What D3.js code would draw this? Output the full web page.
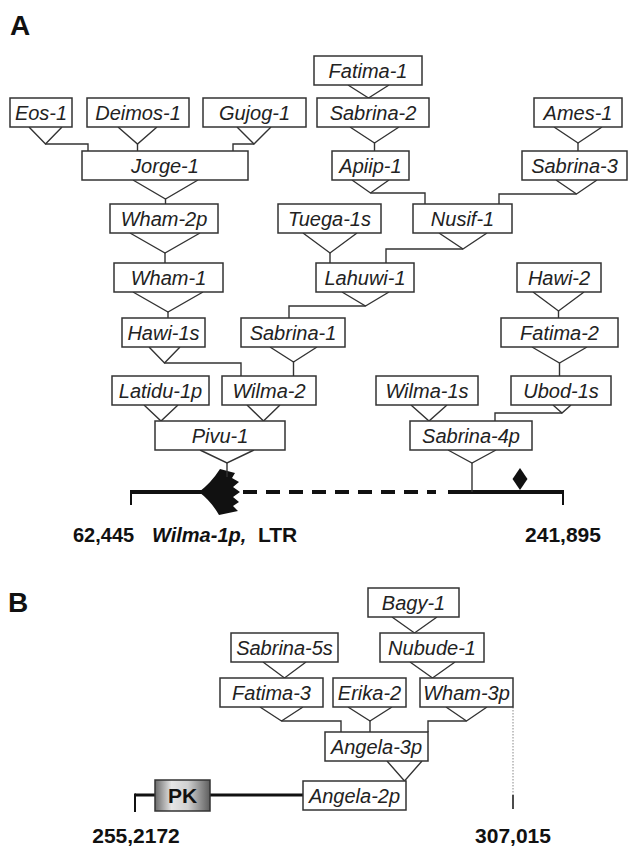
<!DOCTYPE html>
<html><head><meta charset="utf-8">
<script src="https://cdn.jsdelivr.net/npm/d3@7"></script>
<style>body{margin:0;background:#fff}svg{display:block}</style>
</head><body>
<svg id="chart" width="628" height="848"></svg>
<script>
// ---------------- DATA ----------------
// Panel A: nested transposable elements, each with the element it is inserted into
const panelANames = ["Fatima-1","Eos-1","Deimos-1","Gujog-1","Sabrina-2","Ames-1","Jorge-1","Apiip-1","Sabrina-3",
  "Wham-2p","Tuega-1s","Nusif-1","Wham-1","Lahuwi-1","Hawi-2","Hawi-1s","Sabrina-1","Fatima-2",
  "Latidu-1p","Wilma-2","Wilma-1s","Ubod-1s","Pivu-1","Sabrina-4p"];
const panelAHosts = ["Sabrina-2","Jorge-1","Jorge-1","Jorge-1","Apiip-1","Sabrina-3","Wham-2p","Nusif-1","Nusif-1",
  "Wham-1","Lahuwi-1","Lahuwi-1","Hawi-1s","Sabrina-1","Fatima-2","Wilma-2","Wilma-2","Ubod-1s",
  "Pivu-1","Pivu-1","Sabrina-4p","Sabrina-4p","genome","genome"];
const panelARows = [0,1,1,1,1,1,2,2,2,3,3,3,4,4,4,5,5,5,6,6,6,6,7,7];
const panelAEnds = [62445, 241895];
const panelALabels = ["Wilma-1p,", "LTR"];

// Panel B
const panelBNames = ["Bagy-1","Sabrina-5s","Nubude-1","Fatima-3","Erika-2","Wham-3p","Angela-3p","Angela-2p"];
const panelBHosts = ["Nubude-1","Fatima-3","Wham-3p","Angela-3p","Angela-3p","Angela-3p","Angela-2p","genome"];
const panelBRows = [0,1,1,2,2,2,3,4];
const panelBEndLabels = ["255,2172", "307,015"];
const panelBGene = ["PK"];

// ---------------- LAYOUT ----------------
const rowTopA = [56,98,151,204,263,318,376,421];
const boxLeftA  = [314,10,87,203,317,534,82,332,522,110,278,413,114,316,517,122,241,501,112,222,376,511,155,410];
const boxRightA = [422,72,189,306,429,622,248,409,627,218,381,512,223,414,601,205,345,618,209,316,478,611,285,532];
const vLeftA  = [348,29,118,237,350,554,133,352,556,130,303,439,133,342,533,149,270,532,144,247,411,553,200,448];
const vRightA = [389,62,157,271,399,602,198,389,597,200,357,487,203,389,584,180,317,587,178,280,447,571,254,496];
const apexYA  = [98,144,144,144,143,143,199,193,194,253,253,249,312,306,311,363,362,363,421,421,421,413,463,463];
const insertXA = [null,88,null,233,null,null,null,425,499,null,null,386,null,289,null,241,null,null,null,null,null,495,null,null];
const genomeYA = 492, genomeStopA = [477, 492];

const rowTopB = [588,633,678,732,781];
const boxLeftB  = [368,231,380,220,333,420,325,303];
const boxRightB = [459,338,484,323,406,513,428,406];
const vLeftB  = [392,263,410,260,348,446,387];
const vRightB = [437,306,455,303,392,487,422];
const apexYB  = [633,678,678,721,721,721,781];
const insertXB = [null,null,null,341,null,428,null];
const genomeYB = 795;

const BOX_H = 29;
const svg = d3.select("#chart");
const x = d3.scaleLinear().domain([0,628]).range([0,628]);
const yA = d3.scaleOrdinal().domain(d3.range(rowTopA.length)).range(rowTopA);
const yB = d3.scaleOrdinal().domain(d3.range(rowTopB.length)).range(rowTopB);

const defs = svg.append("defs");
const grad = defs.append("linearGradient").attr("id","pkgrad").attr("x1","0%").attr("x2","100%").attr("y1","0%").attr("y2","0%");
[["0%","#6a6a6a"],["30%","#e6e6e6"],["60%","#d0d0d0"],["100%","#5e5e5e"]].forEach(s=>grad.append("stop").attr("offset",s[0]).attr("stop-color",s[1]));

function drawPanel(g, names, hosts, rows, yS, L, R, vL, vR, apY, insX, stopY) {
  const idx = {}; names.forEach((n,i)=>idx[n]=i);
  const boxes = names.map((n,i)=>({name:n, x0:x(L[i]), x1:x(R[i]), y0:yS(rows[i]), y1:yS(rows[i])+BOX_H, i}));
  boxes.forEach((b,i)=>{
    if (vL[i] === undefined) return;
    const ax = (x(vL[i])+x(vR[i]))/2, ay = apY[i];
    g.append("path").attr("d", `M${x(vL[i])},${b.y1}L${ax},${ay}L${x(vR[i])},${b.y1}`)
      .attr("fill","none").attr("stroke","#333").attr("stroke-width",1.4);
    let targetY;
    const h = hosts[i];
    if (h === "genome") targetY = stopY[i - (names.length - stopY.length)];
    else targetY = boxes[idx[h]].y0;
    const ix = insX[i] == null ? ax : x(insX[i]);
    if (targetY > ay + 0.5) {
      g.append("path").attr("d", `M${ax},${ay}H${ix}V${targetY}`)
        .attr("fill","none").attr("stroke","#333").attr("stroke-width",1.4);
    }
  });
  const bg = g.selectAll("g.box").data(boxes).join("g").attr("class","box");
  bg.append("rect").attr("x",d=>d.x0).attr("y",d=>d.y0).attr("width",d=>d.x1-d.x0).attr("height",BOX_H)
    .attr("fill","#fff").attr("stroke","#333").attr("stroke-width",1.5);
  bg.append("text").attr("x",d=>(d.x0+d.x1)/2).attr("y",d=>d.y0+BOX_H/2+7)
    .attr("text-anchor","middle").attr("font-family","'Liberation Sans',Arial,sans-serif")
    .attr("font-style","italic").attr("font-size",20).attr("fill","#222").text(d=>d.name);
}

// ---------- Panel A ----------
const gA = svg.append("g");
gA.append("text").attr("x",10).attr("y",35).attr("font-family","'Liberation Sans',Arial,sans-serif")
  .attr("font-weight","bold").attr("font-size",28).attr("fill","#111").text("A");

const gen = d3.scaleLinear().domain(panelAEnds).range([131,563]);
const lineA = gA.append("g").attr("stroke","#111").attr("fill","none");
lineA.append("line").attr("x1",gen(panelAEnds[0])).attr("x2",202).attr("y1",genomeYA).attr("y2",genomeYA).attr("stroke-width",4);
lineA.append("line").attr("x1",243).attr("x2",436).attr("y1",genomeYA).attr("y2",genomeYA).attr("stroke-width",4).attr("stroke-dasharray","14,9");
lineA.append("line").attr("x1",448).attr("x2",gen(panelAEnds[1])).attr("y1",genomeYA).attr("y2",genomeYA).attr("stroke-width",4);
lineA.append("line").attr("x1",gen(panelAEnds[0])).attr("x2",gen(panelAEnds[0])).attr("y1",genomeYA-2).attr("y2",505).attr("stroke-width",2);
lineA.append("line").attr("x1",gen(panelAEnds[1])).attr("x2",gen(panelAEnds[1])).attr("y1",genomeYA-2).attr("y2",505).attr("stroke-width",2);
const tx = 199, ty = genomeYA;
const arrowPts = [[21,-23],[36,-19],[33,-14],[40,-10],[34,-5],[41,0],[34,5],[40,10],[34,14],[39,19],[20,23]];
let ad = `M${tx},${ty}Q${tx+12},${ty-9} ${tx+arrowPts[0][0]},${ty+arrowPts[0][1]}`;
arrowPts.slice(1).forEach(p=>ad+=`L${tx+p[0]},${ty+p[1]}`);
ad += `Q${tx+12},${ty+9} ${tx},${ty}Z`;
gA.append("path").attr("d",ad).attr("fill","#111");
gA.append("path").attr("d",`M520,468L527.5,479L520,490L512.5,479Z`).attr("fill","#111");

drawPanel(gA, panelANames, panelAHosts, panelARows, yA, boxLeftA, boxRightA, vLeftA, vRightA, apexYA, insertXA, genomeStopA);

const fmt = d3.format(",");
const lbl = gA.append("g").attr("font-family","'Liberation Sans',Arial,sans-serif").attr("font-weight","bold").attr("font-size",20).attr("fill","#111");
lbl.append("text").attr("x",73).attr("y",542).text(fmt(panelAEnds[0]));
lbl.append("text").attr("x",152).attr("y",542).attr("font-style","italic").text(panelALabels[0]);
lbl.append("text").attr("x",258).attr("y",542).attr("font-size",21).text(panelALabels[1]);
lbl.append("text").attr("x",gen(panelAEnds[1])).attr("y",542).attr("text-anchor","middle").attr("font-size",21).text(fmt(panelAEnds[1]));

// ---------- Panel B ----------
const gB = svg.append("g");
gB.append("text").attr("x",8).attr("y",612).attr("font-family","'Liberation Sans',Arial,sans-serif")
  .attr("font-weight","bold").attr("font-size",28).attr("fill","#111").text("B");
const lineB = gB.append("g").attr("stroke","#111").attr("fill","none");
lineB.append("line").attr("x1",135).attr("x2",303).attr("y1",genomeYB).attr("y2",genomeYB).attr("stroke-width",3);
lineB.append("line").attr("x1",135).attr("x2",135).attr("y1",genomeYB-1.5).attr("y2",812).attr("stroke-width",2);
lineB.append("line").attr("x1",513).attr("x2",513).attr("y1",707).attr("y2",795).attr("stroke-width",1).attr("stroke","#888").attr("stroke-dasharray","1.5,1.5");
lineB.append("line").attr("x1",513).attr("x2",513).attr("y1",795).attr("y2",809).attr("stroke-width",1.5);
gB.append("rect").attr("x",155).attr("y",780).attr("width",55).attr("height",31).attr("fill","url(#pkgrad)").attr("stroke","#333").attr("stroke-width",1.5);
gB.append("text").attr("x",182.5).attr("y",803).attr("text-anchor","middle").attr("font-family","'Liberation Sans',Arial,sans-serif")
  .attr("font-weight","bold").attr("font-size",21).attr("fill","#111").text(panelBGene[0]);

drawPanel(gB, panelBNames, panelBHosts, panelBRows, yB, boxLeftB, boxRightB, vLeftB, vRightB, apexYB, insertXB, []);

const lblB = gB.append("g").attr("font-family","'Liberation Sans',Arial,sans-serif").attr("font-weight","bold").attr("font-size",21).attr("fill","#111").attr("text-anchor","middle");
lblB.append("text").attr("x",136).attr("y",843).text(panelBEndLabels[0]);
lblB.append("text").attr("x",513).attr("y",843).text(panelBEndLabels[1]);
</script>
</body></html>
